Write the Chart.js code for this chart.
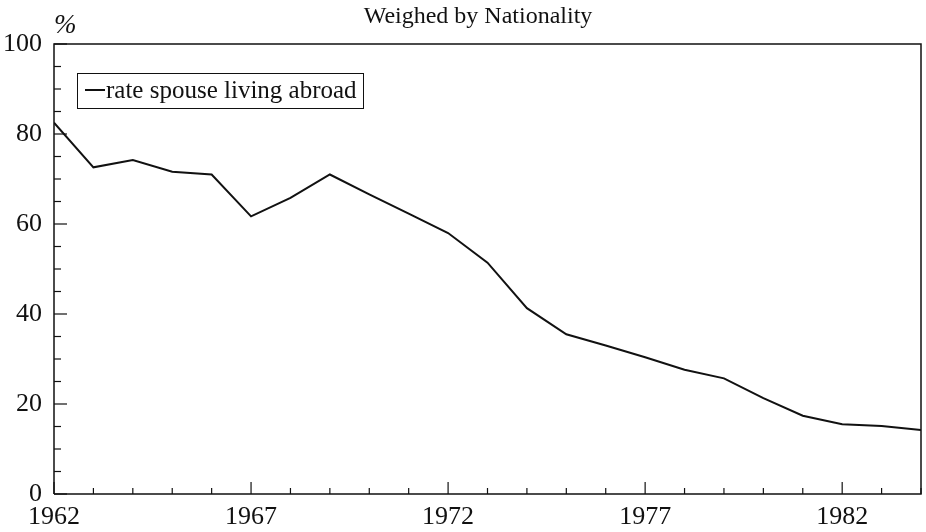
<!DOCTYPE html>
<html>
<head>
<meta charset="utf-8">
<script src="https://cdn.jsdelivr.net/npm/chart.js@4.4.1/dist/chart.umd.min.js"></script>
<style>
  html, body { margin: 0; padding: 0; background: #fff; }
  #wrap { width: 926px; height: 532px; position: relative; }
</style>
</head>
<body>
<div id="wrap"><canvas id="c" width="926" height="532"></canvas></div>
<script>
const years = [1962,1963,1964,1965,1966,1967,1968,1969,1970,1971,1972,1973,1974,1975,1976,1977,1978,1979,1980,1981,1982,1983,1984];
const rateSpouseAbroad = [82.5,72.6,74.2,71.6,71.0,61.7,65.8,71.0,66.6,62.3,58.0,51.4,41.3,35.5,33.0,30.4,27.6,25.7,21.3,17.4,15.5,15.1,14.2];
const xTickYears = [1962,1967,1972,1977,1982];
const yTickValues = [0,20,40,60,80,100];
const titleText = "Weighed by Nationality";
const unitText = "%";
const legendText = "rate spouse living abroad";

const FONT = "'Liberation Serif', 'Times New Roman', serif";

const decor = {
  id: 'decor',
  afterDraw(chart) {
    const ctx = chart.ctx;
    const a = chart.chartArea;
    const xs = chart.scales.x, ys = chart.scales.y;
    ctx.save();
    ctx.strokeStyle = '#111';
    ctx.lineWidth = 1.5;
    // frame
    ctx.beginPath();
    ctx.moveTo(a.left, a.bottom);
    ctx.lineTo(a.left, a.top);
    ctx.lineTo(a.right, a.top);
    ctx.lineTo(a.right, a.bottom);
    ctx.lineTo(a.left, a.bottom);
    ctx.stroke();
    // x tick marks (inward)
    ctx.lineWidth = 1.2;
    for (let yr = years[0]; yr <= years[years.length-1]; yr++) {
      const px = xs.getPixelForValue(yr);
      const len = xTickYears.includes(yr) ? 12 : 6;
      ctx.beginPath();
      ctx.moveTo(px, a.bottom);
      ctx.lineTo(px, a.bottom - len);
      ctx.stroke();
    }
    // y tick marks (inward)
    for (let v = 0; v <= 100; v += 5) {
      const py = ys.getPixelForValue(v);
      const len = yTickValues.includes(v) ? 13 : 7;
      ctx.beginPath();
      ctx.moveTo(a.left, py);
      ctx.lineTo(a.left + len, py);
      ctx.stroke();
    }
    // title
    ctx.fillStyle = '#111';
    ctx.font = "24px " + FONT;
    ctx.textAlign = 'center';
    ctx.textBaseline = 'alphabetic';
    ctx.fillText(titleText, 478, 23);
    // unit
    ctx.font = "italic 27px " + FONT;
    ctx.textAlign = 'left';
    ctx.fillText(unitText, 54, 33);
    // legend
    ctx.lineWidth = 1;
    ctx.strokeRect(77.5, 73.5, 286, 35);
    ctx.lineWidth = 2;
    ctx.beginPath();
    ctx.moveTo(85, 90);
    ctx.lineTo(105, 90);
    ctx.stroke();
    ctx.font = "25px " + FONT;
    ctx.textAlign = 'left';
    ctx.fillText(legendText, 106, 98);
    ctx.restore();
  }
};

new Chart(document.getElementById('c'), {
  type: 'line',
  data: {
    datasets: [{
      label: legendText,
      data: years.map((y, i) => ({ x: y, y: rateSpouseAbroad[i] })),
      borderColor: '#111',
      borderWidth: 2,
      pointRadius: 0,
      tension: 0,
      fill: false
    }]
  },
  options: {
    responsive: false,
    animation: false,
    devicePixelRatio: 1,
    layout: { padding: { left: 0, top: 44, right: 5, bottom: 0 } },
    plugins: {
      legend: { display: false },
      title: { display: false },
      tooltip: { enabled: false }
    },
    scales: {
      x: {
        type: 'linear',
        min: years[0],
        max: years[years.length - 1],
        afterBuildTicks: s => { s.ticks = xTickYears.map(v => ({ value: v })); },
        afterFit: s => { s.height = 38; },
        grid: { display: false, drawTicks: false },
        border: { display: false },
        ticks: {
          autoSkip: false,
          maxRotation: 0,
          padding: 8,
          color: '#111',
          font: { family: FONT, size: 26 },
          callback: v => String(v)
        }
      },
      y: {
        min: 0,
        max: 100,
        afterBuildTicks: s => { s.ticks = yTickValues.map(v => ({ value: v })); },
        afterFit: s => { s.width = 54; },
        grid: { display: false, drawTicks: false },
        border: { display: false },
        ticks: {
          padding: 12,
          color: '#111',
          font: { family: FONT, size: 26 }
        }
      }
    }
  },
  plugins: [decor]
});
</script>
</body>
</html>
